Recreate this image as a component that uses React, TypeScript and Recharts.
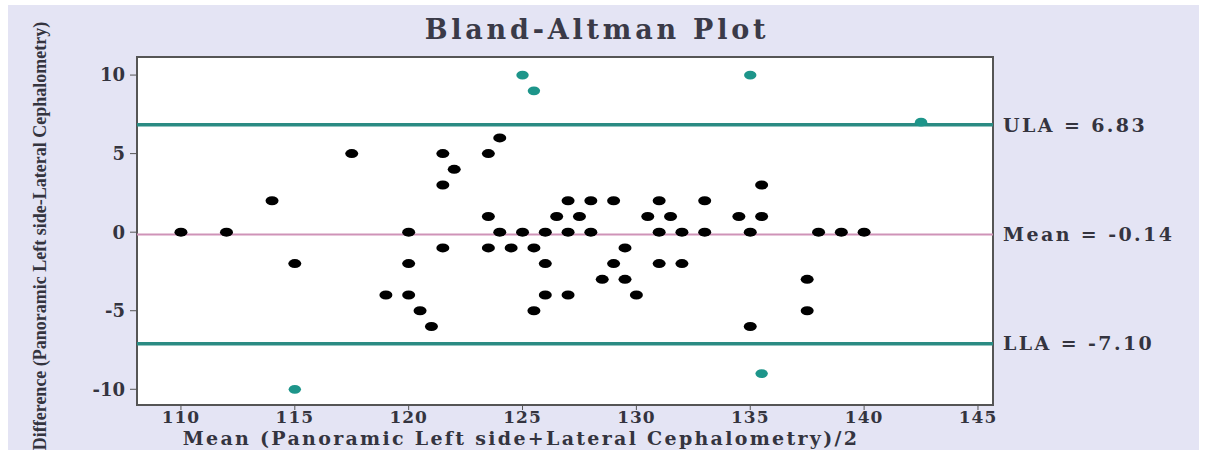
import { ScatterChart, Scatter, XAxis, YAxis, ReferenceLine, ReferenceArea, Label } from 'recharts';

// means (x) and differences (y) of the paired measurements inside the limits
const meanIn = [
  110, 112, 114, 117.5, 115, 119, 120, 120, 120, 120.5, 121, 121.5, 121.5, 121.5, 122,
  123.5, 123.5, 123.5, 124, 124, 124.5, 125, 125.5, 125.5, 126, 126, 126, 126.5, 127, 127,
  127, 127.5, 128, 128, 128.5, 129, 129, 129.5, 129.5, 130, 130.5, 131, 131, 131, 131.5,
  132, 132, 133, 133, 134.5, 135, 135, 135.5, 135.5, 137.5, 137.5, 138, 139, 140,
];
const diffIn = [
  0, 0, 2, 5, -2, -4, 0, -2, -4, -5, -6, 5, 3, -1, 4,
  5, 1, -1, 6, 0, -1, 0, -1, -5, 0, -2, -4, 1, 2, 0,
  -4, 1, 2, 0, -3, 2, -2, -1, -3, -4, 1, 2, 0, -2, 1,
  0, -2, 2, 0, 1, 0, -6, 3, 1, -3, -5, 0, 0, 0,
];

// points on or outside the limits of agreement
const meanOut = [125, 125.5, 135, 142.5, 115, 135.5];
const diffOut = [10, 9, 10, 7, -10, -9];

const xTicks = [110, 115, 120, 125, 130, 135, 140, 145];
const yTicks = [-10, -5, 0, 5, 10];

const ula = 6.83;
const meanDiff = -0.14;
const lla = -7.1;

const inside = meanIn.map((x, i) => ({ x, y: diffIn[i] }));
const outside = meanOut.map((x, i) => ({ x, y: diffOut[i] }));

const serif = '"DejaVu Serif", serif';
const textColor = '#34343f';
const teal = '#2a8b83';

const BlackDot = (props: any) => <ellipse cx={props.cx} cy={props.cy} rx={6.5} ry={4.5} fill="#000" />;
const TealDot = (props: any) => <ellipse cx={props.cx} cy={props.cy} rx={6.2} ry={4.4} fill="#1d958a" />;

const limitLabel = (value: string) => ({
  value,
  position: 'right' as const,
  offset: 10,
  fill: textColor,
  fontSize: 19,
  fontWeight: 'bold',
  fontFamily: serif,
  letterSpacing: 2.4,
});

export default function App() {
  return (
    <div style={{ position: 'relative', width: 1209, height: 450, background: '#fff', overflow: 'hidden' }}>
      <style>{'body{margin:0}'}</style>
      <div style={{ position: 'absolute', left: 8, top: 5, width: 1191, height: 445, background: '#e4e4f4' }} />
      <div
        style={{
          position: 'absolute',
          left: 597,
          top: 14,
          transform: 'translateX(-50%)',
          fontFamily: serif,
          fontSize: 27,
          fontWeight: 'bold',
          letterSpacing: 3.8,
          color: '#3a3a48',
          whiteSpace: 'nowrap',
        }}
      >
        Bland-Altman Plot
      </div>
      <div style={{ position: 'absolute', left: 0, top: 0 }}>
        <ScatterChart width={1209} height={450} margin={{ top: 57, right: 216, bottom: 0, left: 0 }}>
          <ReferenceArea
            x1={108.07}
            x2={145.66}
            y1={-11}
            y2={11.15}
            fill="#fff"
            fillOpacity={1}
            stroke="#555"
            strokeWidth={2}
          />
          <XAxis
            type="number"
            dataKey="x"
            domain={[108.07, 145.66]}
            ticks={xTicks}
            allowDataOverflow
            axisLine={false}
            tickSize={5}
            tickMargin={1}
            tickLine={{ stroke: '#555' }}
            tick={{ fill: textColor, fontSize: 17, fontWeight: 'bold', fontFamily: serif, letterSpacing: 1 }}
            height={45}
          >
            <Label
              value="Mean (Panoramic Left side+Lateral Cephalometry)/2"
              position="insideBottom"
              offset={5}
              dx={-44}
              fill={textColor}
              fontSize={19}
              fontWeight="bold"
              fontFamily={serif}
              letterSpacing={2.3}
            />
          </XAxis>
          <YAxis
            type="number"
            dataKey="y"
            domain={[-11, 11.15]}
            ticks={yTicks}
            allowDataOverflow
            axisLine={false}
            tickSize={7}
            tickMargin={5}
            tickLine={{ stroke: '#555' }}
            tick={{ fill: textColor, fontSize: 18, fontWeight: 'bold', fontFamily: serif }}
            width={137}
          >
            <Label
              value="Difference (Panoramic Left side-Lateral Cephalometry)"
              angle={-90}
              position="insideLeft"
              offset={40}
              textAnchor="middle"
              dy={5}
              fill={textColor}
              fontSize={18}
              fontWeight="bold"
              fontFamily='"Liberation Serif", serif'
            />
          </YAxis>
          <ReferenceLine y={ula} stroke={teal} strokeWidth={3.5} label={limitLabel('ULA = 6.83')} />
          <ReferenceLine y={meanDiff} stroke="#cf93b8" strokeWidth={2} label={limitLabel('Mean = -0.14')} />
          <ReferenceLine y={lla} stroke={teal} strokeWidth={3.5} label={limitLabel('LLA = -7.10')} />
          <Scatter data={inside} shape={BlackDot} isAnimationActive={false} />
          <Scatter data={outside} shape={TealDot} isAnimationActive={false} />
        </ScatterChart>
      </div>
    </div>
  );
}
